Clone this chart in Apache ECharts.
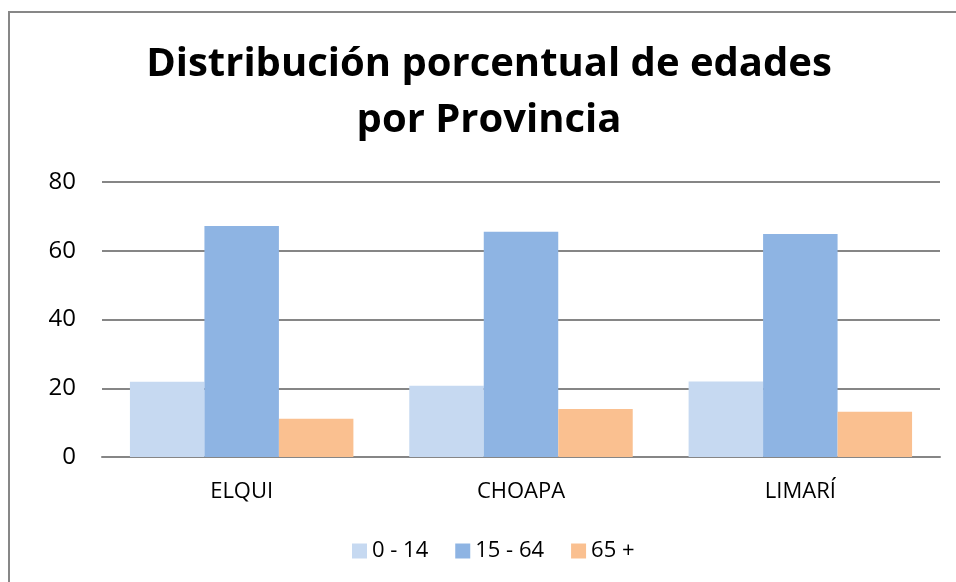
<!DOCTYPE html>
<html>
<head>
<meta charset="utf-8">
<script src="https://cdn.jsdelivr.net/npm/echarts@6/dist/echarts.min.js"></script>
<style>
	html, body { margin: 0; padding: 0; background: #fff; }
	#chart { width: 956px; height: 582px; }
</style>
</head>
<body>
<div id="chart"></div>
<script>
// datos
const provincias = ["ELQUI", "CHOAPA", "LIMARÍ"];
const edad_0_14 = [21.9, 20.7, 22.0];
const edad_15_64 = [67.2, 65.5, 64.9];
const edad_65 = [11.1, 14.0, 13.2];
const grupos = ["0 - 14", "15 - 64", "65 +"];
const colores = ["#C6D9F1", "#8EB4E3", "#FAC090"];

const myChart = echarts.init(document.getElementById("chart"));
const fuente = "'Open Sans', 'Noto Sans', sans-serif";

const option = {
	animation: false,
	backgroundColor: "#fff",
	title: {
		text: "Distribución porcentual de edades\npor Provincia",
		left: 484,
		textAlign: "center",
		top: 32,
		textStyle: {
			fontFamily: fuente,
			fontSize: 40,
			fontWeight: "bold",
			color: "#000",
			lineHeight: 56
		}
	},
	graphic: [{
		//marco
		type: "rect",
		shape: { x: 9, y: 12, width: 1200, height: 1000 },
		style: { fill: "none", stroke: "#878787", lineWidth: 2 },
		silent: true
	}],
	legend: {
		data: grupos,
		left: 347,
		top: 535,
		itemWidth: 15,
		itemHeight: 15,
		itemGap: 27,
		icon: "rect",
		textStyle: { fontFamily: fuente, fontSize: 22, color: "#000" }
	},
	grid: { left: 102, right: 16, top: 182, bottom: 125 },
	xAxis: {
		type: "category",
		data: provincias,
		axisTick: { show: false },
		axisLine: { lineStyle: { color: "#868686", width: 2 } },
		axisLabel: { fontFamily: fuente, fontSize: 22, color: "#000", margin: 24 }
	},
	yAxis: {
		type: "value",
		min: 0,
		max: 80,
		interval: 20,
		axisLabel: { fontFamily: fuente, fontSize: 24, color: "#000", margin: 26 },
		splitLine: { lineStyle: { color: "#868686", width: 2 } }
	},
	series: [
		{ name: grupos[0], type: "bar", data: edad_0_14, itemStyle: { color: colores[0] }, barGap: "0%", barCategoryGap: "20%" },
		{ name: grupos[1], type: "bar", data: edad_15_64, itemStyle: { color: colores[1] } },
		{ name: grupos[2], type: "bar", data: edad_65, itemStyle: { color: colores[2] } }
	]
};
myChart.setOption(option);
</script>
</body>
</html>
